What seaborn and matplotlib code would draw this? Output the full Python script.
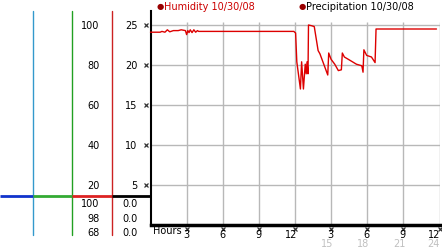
import matplotlib
matplotlib.use("Agg")
import matplotlib.pyplot as plt
import matplotlib.transforms as mtransforms
from matplotlib.lines import Line2D
import seaborn as sns
import pandas as pd

# ---- data ----
hours = [0.0, 0.8, 0.95, 1.2, 1.4, 1.6, 1.9, 2.3, 2.55, 2.9, 3.0, 3.1, 3.2, 3.3, 3.45, 3.6,
         3.75, 3.9, 4.0, 11.9, 12.05, 12.15, 12.45, 12.55, 12.7, 12.85, 12.93, 13.0, 13.08,
         13.12, 13.4, 13.6, 13.92, 14.07, 14.72, 14.8, 15.0, 15.3, 15.6, 15.85, 15.93, 16.1,
         16.55, 17.1, 17.55, 17.65, 17.72, 17.95, 18.35, 18.65, 18.73, 23.75]
humidity = [24.1, 24.1, 24.2, 24.1, 24.4, 24.15, 24.3, 24.3, 24.4, 24.3, 23.8, 24.3, 24.05, 24.4,
            24.05, 24.4, 24.1, 24.3, 24.2, 24.2, 24.0, 20.4, 17.0, 20.4, 17.0, 20.1, 18.9, 20.4,
            18.9, 25.0, 24.9, 24.8, 21.8, 21.4, 18.75, 21.5, 20.7, 20.1, 19.3, 19.4, 21.5, 21.0,
            20.6, 20.1, 19.9, 19.1, 21.9, 21.2, 21.0, 20.3, 24.5, 24.5]

y_ticks = [5, 10, 15, 20, 25]
y_labels_right = ["5", "10", "15", "20", "25"]
y_labels_left = ["20", "40", "60", "80", "100"]
x_ticks = [3, 6, 9, 12, 15, 18, 21, 24]
x_labels = ["3", "6", "9", "12", "3", "6", "9", "12"]
x_ticks2 = [15, 18, 21, 24]
x_labels2 = ["15", "18", "21", "24"]
current_left = ["100", "98", "68"]
current_right = ["0.0", "0.0", "0.0"]
legend_labels = ["Humidity 10/30/08", "Precipitation 10/30/08"]

df = pd.DataFrame({"hours": hours, "humidity": humidity})

sns.set_style("white")
plt.rcParams["font.family"] = ["DejaVu Sans"]

W, H = 442, 253
fig = plt.figure(figsize=(W / 100, H / 100), dpi=100)
ax = fig.add_axes([150.5 / W, 27 / H, 289 / W, 214 / H])
ax.set_xlim(0, 24)
ax.set_ylim(0, 26.75)

grid_c = "#b8b8b8"
ax.hlines(y_ticks, 0, 24, color=grid_c, lw=1, zorder=1)
ax.vlines(x_ticks, 0, 25.4, color=grid_c, lw=1, zorder=1)

sns.lineplot(data=df, x="hours", y="humidity", ax=ax, color="#dd0000", lw=1,
             estimator=None, sort=False, zorder=3)
for l in ax.lines:
    l.set_clip_on(False)

ax.set_xlabel("")
ax.set_ylabel("")
ax.set_xticks([])
ax.set_yticks([])
for s in ["top", "right"]:
    ax.spines[s].set_visible(False)
ax.spines["left"].set_color("black")
ax.spines["left"].set_linewidth(1.5)
ax.spines["bottom"].set_color("black")
ax.spines["bottom"].set_linewidth(2.5)

def fy(py):
    return (H - py) / H

def fx(px):
    return px / W

mk = dict(marker="x", markersize=2.6, mew=0.9, color="#333333", ls="none", clip_on=False)

# y labels in left margin
tr_y = mtransforms.blended_transform_factory(fig.transFigure, ax.transData)
for v, lr, ll in zip(y_ticks, y_labels_right, y_labels_left):
    fig.text(fx(137.5), v, lr, transform=tr_y, ha="right", va="center", fontsize=7, color="black")
    fig.text(fx(99.5), v, ll, transform=tr_y, ha="right", va="center", fontsize=7, color="black")
    fig.add_artist(Line2D([fx(146)], [v], transform=tr_y, **mk))

# x labels
tr_x = mtransforms.blended_transform_factory(ax.transData, fig.transFigure)
for v, lab in zip(x_ticks, x_labels):
    fig.add_artist(Line2D([v], [fy(229.5)], transform=tr_x, **mk))
    fig.text(min(v + 0.2, 24.05), fy(235), lab, transform=tr_x, ha="right", va="center",
             fontsize=7, color="black")
for v, lab in zip(x_ticks2, x_labels2):
    fig.text(min(v + 0.2, 24.05), fy(244.5), lab, transform=tr_x, ha="right", va="center",
             fontsize=7, color="#c0c0c0")
fig.text(fx(153), fy(231), "Hours", ha="left", va="center", fontsize=7, color="black")

# lower current-value labels
for py, a, b in zip([204, 219, 233], current_left, current_right):
    fig.text(fx(99.5), fy(py), a, ha="right", va="center", fontsize=7, color="black")
    fig.text(fx(137.5), fy(py), b, ha="right", va="center", fontsize=7, color="black")

# side axis lines
for px, c in [(33, "#3399cc"), (72, "#22a022"), (112, "#cc2222")]:
    fig.add_artist(Line2D([fx(px), fx(px)], [fy(12), fy(236)], color=c, lw=1,
                          transform=fig.transFigure))
for x0, x1, c in [(0, 33, "#1133cc"), (33, 72, "#33aa33"), (72, 112, "#dd2222"), (112, 150, "black")]:
    fig.add_artist(Line2D([fx(x0), fx(x1)], [fy(197), fy(197)], color=c, lw=2,
                          transform=fig.transFigure, solid_capstyle="butt"))

# legend
fig.text(fx(160), fy(7), "●", ha="center", va="center", fontsize=6, color="#990000")
fig.text(fx(164.5), fy(7), legend_labels[0], ha="left", va="center", fontsize=7, color="#cc0000")
fig.text(fx(302), fy(7), "●", ha="center", va="center", fontsize=6, color="#990000")
fig.text(fx(306), fy(7), legend_labels[1], ha="left", va="center", fontsize=7, color="black")

fig.savefig("out.png", dpi=100)
